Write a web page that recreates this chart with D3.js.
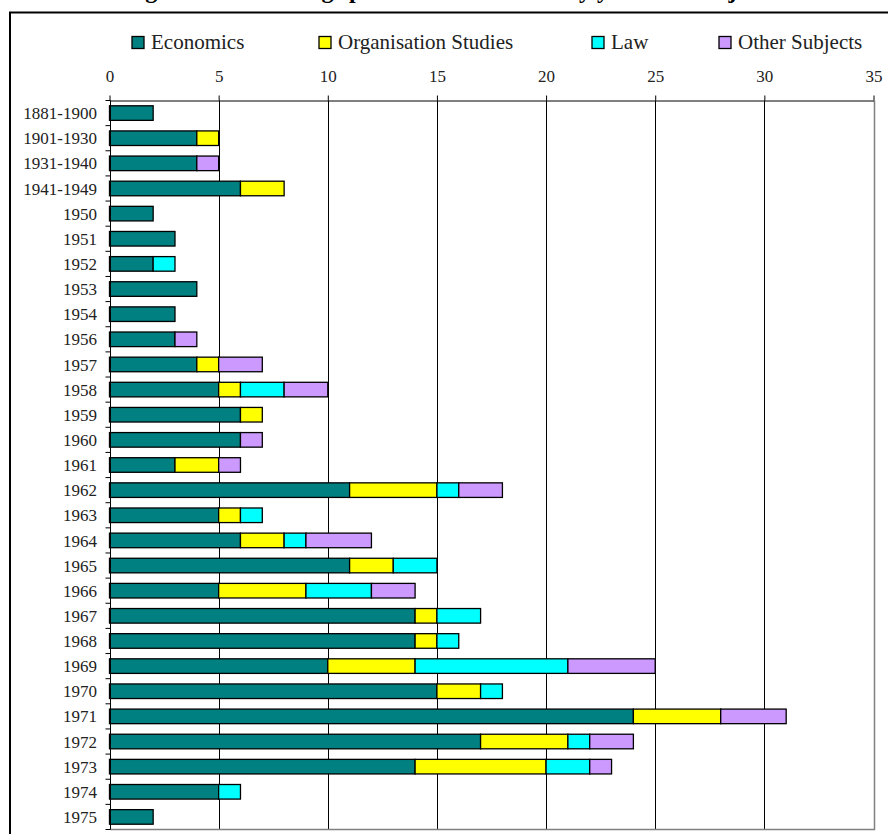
<!DOCTYPE html>
<html>
<head>
<meta charset="utf-8">
<script src="https://cdn.jsdelivr.net/npm/d3@7"></script>
<style>
  body { margin: 0; background: #fff; }
  svg { display: block; }
  text { font-family: "Liberation Serif", "Times New Roman", serif; }
</style>
</head>
<body>
<div id="container"></div>
<script>
let width = 888;
let height = 834;

// periods on the vertical axis
var periods = ['1881-1900', '1901-1930', '1931-1940', '1941-1949', '1950', '1951', '1952',
  '1953', '1954', '1956', '1957', '1958', '1959', '1960', '1961', '1962', '1963', '1964',
  '1965', '1966', '1967', '1968', '1969', '1970', '1971', '1972', '1973', '1974', '1975'];

// counts per subject, same order as periods
var economics   = [2, 4, 4, 6, 2, 3, 2, 4, 3, 3, 4, 5, 6, 6, 3, 11, 5, 6, 11, 5, 14, 14, 10, 15, 24, 17, 14, 5, 2];
var orgStudies  = [0, 1, 0, 2, 0, 0, 0, 0, 0, 0, 1, 1, 1, 0, 2, 4, 1, 2, 2, 4, 1, 1, 4, 2, 4, 4, 6, 0, 0];
var law         = [0, 0, 0, 0, 0, 0, 1, 0, 0, 0, 0, 2, 0, 0, 0, 1, 1, 1, 2, 3, 2, 1, 7, 1, 0, 1, 2, 1, 0];
var otherSubj   = [0, 0, 1, 0, 0, 0, 0, 0, 0, 1, 2, 2, 0, 1, 1, 2, 0, 3, 0, 2, 0, 0, 4, 0, 3, 2, 1, 0, 0];

var subjects = ['Economics', 'Organisation Studies', 'Law', 'Other Subjects'];
var colors = ['#008080', '#ffff00', '#00ffff', '#cc99ff'];
var xTicks = [0, 5, 10, 15, 20, 25, 30, 35];

var titleText = 'Figure 1: All writings published in Sweden by year and subject';

// build the table for d3.stack
var table = periods.map(function(p, i) {
  return {
    period: p,
    'Economics': economics[i],
    'Organisation Studies': orgStudies[i],
    'Law': law[i],
    'Other Subjects': otherSubj[i]
  };
});

let viz = d3.select("#container").append("svg")
  .attr("width", width)
  .attr("height", height);

// outer frame (runs off the right and bottom edges)
viz.append("rect")
  .attr("x", 10).attr("y", 12.5)
  .attr("width", 900).attr("height", 900)
  .attr("fill", "none")
  .attr("stroke", "#000")
  .attr("stroke-width", 2);

// title, mostly cut off above the page
viz.append("text")
  .attr("x", 124)
  .attr("y", -2)
  .style("font-size", "24px")
  .style("font-weight", "bold")
  .attr("fill", "#000")
  .text(titleText);

let x = d3.scaleLinear().domain([0, 35]).range([109.5, 873.5]);
let y = d3.scaleBand().domain(periods).range([100.5, 829.5])
  .paddingInner(0.42).paddingOuter(0.21);

// gridlines
viz.append("g")
  .selectAll("line")
  .data(xTicks.filter(function(d){ return d > 0 && d < 35; }))
  .enter().append("line")
  .attr("x1", function(d){ return Math.round(x(d)) + 0.5; })
  .attr("x2", function(d){ return Math.round(x(d)) + 0.5; })
  .attr("y1", 100.5).attr("y2", 829.5)
  .attr("stroke", "#000");

// plot border right + bottom (grey)
viz.append("path")
  .attr("d", "M" + (Math.round(x(35)) + 0.5) + ",100.5V829.5H" + (Math.round(x(0)) + 0.5))
  .attr("fill", "none")
  .attr("stroke", "#808080")
  .attr("stroke-width", 1.5);

// top axis
let xAxis = viz.append("g")
  .attr("transform", "translate(0,100.5)")
  .call(d3.axisTop(x).tickValues(xTicks).tickSize(5).tickSizeOuter(0).tickPadding(14));
xAxis.select(".domain").attr("stroke", "#000");
xAxis.selectAll(".tick line").attr("stroke", "#000");
xAxis.selectAll(".tick text")
  .style("font-size", "17px")
  .style("font-family", "'Liberation Serif', serif")
  .attr("fill", "#222");

// stacked bars
let stack = d3.stack().keys(subjects);
let series = stack(table);

viz.append("g")
  .selectAll("g")
  .data(series)
  .enter().append("g")
  .attr("fill", function(d, i){ return colors[i]; })
  .selectAll("rect")
  .data(function(d){ return d.filter(function(v){ return v[1] - v[0] > 0; }); })
  .enter().append("rect")
  .attr("x", function(d){ return x(d[0]); })
  .attr("y", function(d){ return y(d.data.period); })
  .attr("width", function(d){ return x(d[1]) - x(d[0]); })
  .attr("height", y.bandwidth())
  .attr("stroke", "#000")
  .attr("stroke-width", 1.3);

// left axis line and ticks at the band edges
let x0 = Math.round(x(0)) + 0.5;
viz.append("line")
  .attr("x1", x0).attr("x2", x0)
  .attr("y1", 100.5).attr("y2", 829.5)
  .attr("stroke", "#000");

let edges = d3.range(periods.length + 1).map(function(i){ return y.range()[0] + i * y.step(); });
viz.append("g")
  .selectAll("line")
  .data(edges)
  .enter().append("line")
  .attr("x1", x0 - 5).attr("x2", x0)
  .attr("y1", function(d){ return d; })
  .attr("y2", function(d){ return d; })
  .attr("stroke", "#000");

// category labels
viz.append("g")
  .selectAll("text")
  .data(periods)
  .enter().append("text")
  .attr("x", 97)
  .attr("y", function(d){ return y(d) + y.bandwidth() / 2; })
  .attr("dy", "0.36em")
  .attr("text-anchor", "end")
  .style("font-size", "17px")
  .attr("fill", "#222")
  .text(function(d){ return d; });

// legend
var legendX = [132, 319, 592, 719];
let legend = viz.append("g")
  .selectAll("g")
  .data(subjects)
  .enter().append("g")
  .attr("transform", function(d, i){ return "translate(" + legendX[i] + ",36.5)"; });

legend.append("rect")
  .attr("width", 12).attr("height", 12)
  .attr("fill", function(d, i){ return colors[i]; })
  .attr("stroke", "#000")
  .attr("stroke-width", 1.3);

legend.append("text")
  .attr("x", 19)
  .attr("y", 12)
  .style("font-size", "21px")
  .style("font-family", "'Liberation Serif', serif")
  .attr("fill", "#222")
  .text(function(d){ return d; });
</script>
</body>
</html>
